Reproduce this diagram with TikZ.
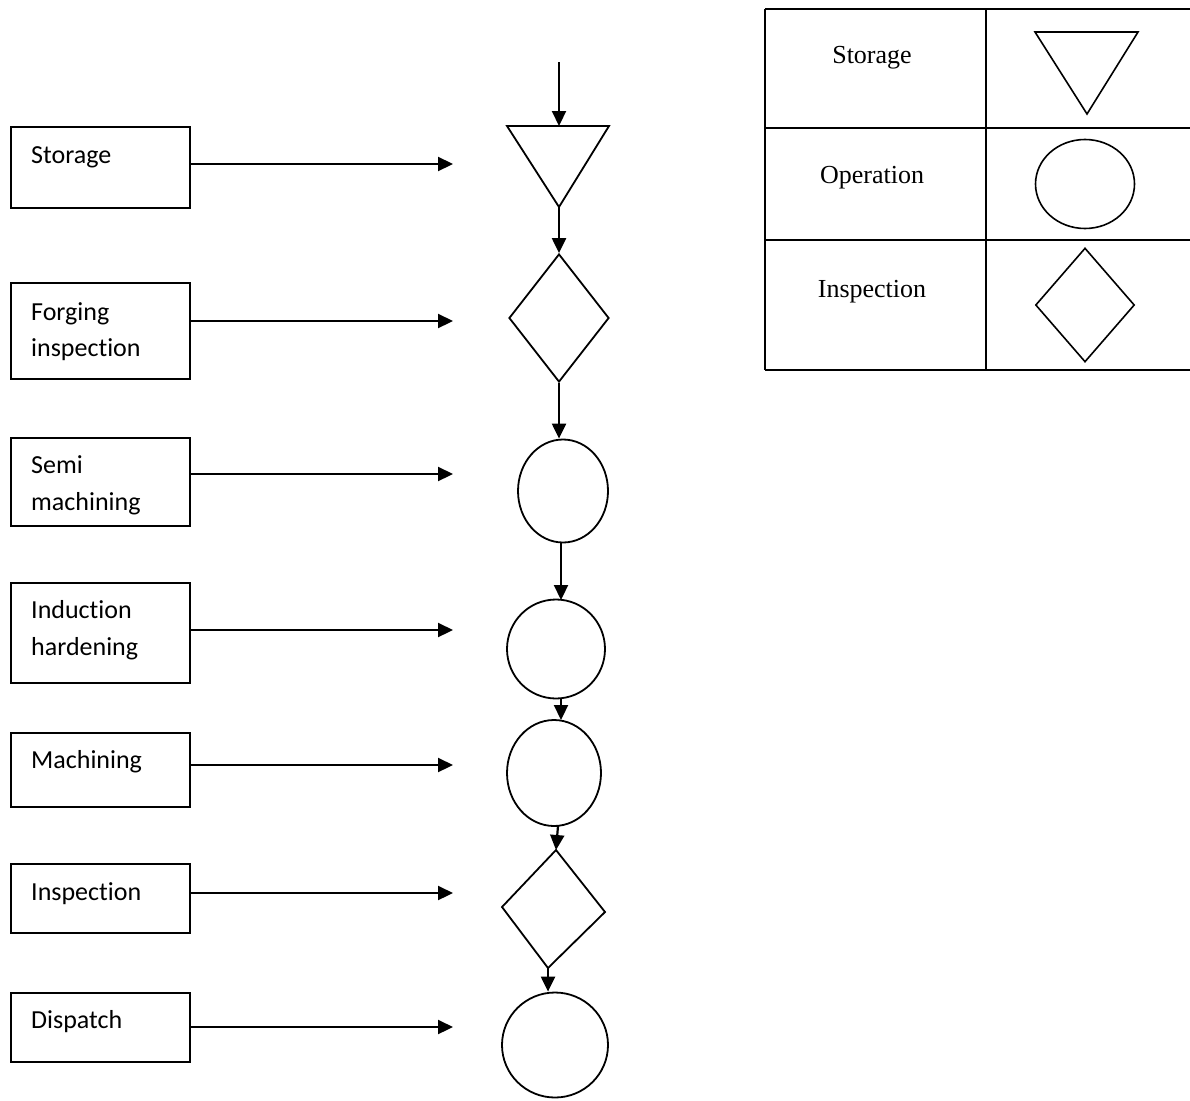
\documentclass[tikz,border=0pt]{standalone}
\usepackage{fontspec}
\setmainfont{Liberation Serif}
\newfontfamily\calib[Ligatures=NoCommon,RawFeature={-liga;-clig;-dlig}]{Carlito}
\usetikzlibrary{arrows.meta,shapes.geometric}
\begin{document}
\begin{tikzpicture}[x=1pt,y=-1pt,
  box/.style={draw,line width=1.8pt,inner sep=0pt,anchor=north west,minimum width=179pt},
  lbl/.style={font=\calib\fontsize{26}{37}\selectfont,anchor=base west,inner sep=0pt},
  arr/.style={line width=2.2pt,-{Triangle[length=15pt,width=14pt]}},
  shp/.style={draw,line width=1.8pt,inner sep=0pt},
  legtxt/.style={font=\fontsize{26}{30}\selectfont,anchor=base,inner sep=0pt},
  tab/.style={line width=2pt}]
\useasboundingbox (0,0) rectangle (1190,1100);

% left boxes
\node[box,minimum height=81pt] (b1) at (10,126) {};
\node[lbl] (l1) at (31,163) {Storage};
\node[box,minimum height=96pt] (b2) at (10,282) {};
\node[lbl] (l2a) at (31,320) {Forging};
\node[lbl] (l2b) at (31,356) {inspection};
\node[box,minimum height=88pt] (b3) at (10,437) {};
\node[lbl] (l3a) at (31,473) {Semi};
\node[lbl] (l3b) at (31,510) {machining};
\node[box,minimum height=100pt] (b4) at (10,582) {};
\node[lbl] (l4a) at (31,618) {Induction};
\node[lbl] (l4b) at (31,655) {hardening};
\node[box,minimum height=74pt] (b5) at (10,732) {};
\node[lbl] (l5) at (31,768) {Machining};
\node[box,minimum height=69pt] (b6) at (10,863) {};
\node[lbl] (l6) at (31,900) {Inspection};
\node[box,minimum height=69pt] (b7) at (10,992) {};
\node[lbl] (l7) at (31,1028) {Dispatch};

% arrow end points
\coordinate (a1) at (453,164);
\coordinate (a2) at (453,321);
\coordinate (a3) at (453,474);
\coordinate (a4) at (453,630);
\coordinate (a5) at (453,765);
\coordinate (a6) at (453,893);
\coordinate (a7) at (453,1027);
\draw[arr] (b1.east |- a1) -- (a1);
\draw[arr] (b2.east |- a2) -- (a2);
\draw[arr] (b3.east |- a3) -- (a3);
\draw[arr] (b4.east |- a4) -- (a4);
\draw[arr] (b5.east |- a5) -- (a5);
\draw[arr] (b6.east |- a6) -- (a6);
\draw[arr] (b7.east |- a7) -- (a7);

% flow shapes
\coordinate (start) at (559,62);
\coordinate (tl) at (507,126);
\coordinate (tr) at (609,126);
\coordinate (ttop) at (559,126);
\coordinate (tapex) at (559,207);
\draw[line width=1.8pt,line join=miter] (tl) -- (tr) -- (tapex) -- cycle;
\node[shp,diamond,minimum width=100pt,minimum height=128pt] (d1) at (559,318) {};
\node[shp,ellipse,minimum width=90pt,minimum height=103pt] (e1) at (563,491) {};
\node[shp,ellipse,minimum width=98pt,minimum height=99pt] (e2) at (556,649) {};
\node[shp,ellipse,minimum width=94pt,minimum height=106pt] (e3) at (554,773) {};
\coordinate (d2t) at (556,850);
\coordinate (d2r) at (605,912);
\coordinate (d2b) at (548,968);
\coordinate (d2l) at (502,907);
\draw[line width=1.8pt] (d2t) -- (d2r) -- (d2b) -- (d2l) -- cycle;
\node[shp,ellipse,minimum width=106pt,minimum height=105pt] (e4) at (555,1045) {};

\draw[arr] (start) -- (ttop);
\draw[arr] (tapex) -- (d1.north);
\draw[arr] (d1.south) -- (d1.south |- e1.north);
\draw[arr] (561,542) -- (561,600);
\draw[arr] (561,699) -- (561,720);
\draw[arr] (558,826) -- (d2t);
\draw[arr] (d2b) -- (d2b |- e4.north);

% legend table
\draw[tab] (765,9) -- (1190,9);
\draw[tab] (765,128) -- (1190,128);
\draw[tab] (765,240) -- (1190,240);
\draw[tab] (765,370) -- (1190,370);
\draw[tab] (765,9) -- (765,370);
\draw[tab] (986,9) -- (986,370);
\node[legtxt] (ls) at (872,63) {Storage};
\node[legtxt] (lo) at (872,183) {Operation};
\node[legtxt] (li) at (872,297) {Inspection};
\coordinate (ltl) at (1035,32);
\coordinate (ltr) at (1138,32);
\coordinate (lta) at (1087,114);
\draw[line width=1.6pt] (ltl) -- (ltr) -- (lta) -- cycle;
\node[shp,ellipse,line width=1.6pt,minimum width=99pt,minimum height=89pt] (le) at (1085,184) {};
\node[shp,diamond,line width=1.6pt,minimum width=99pt,minimum height=114pt] (ld) at (1085,305) {};
\end{tikzpicture}
\end{document}
